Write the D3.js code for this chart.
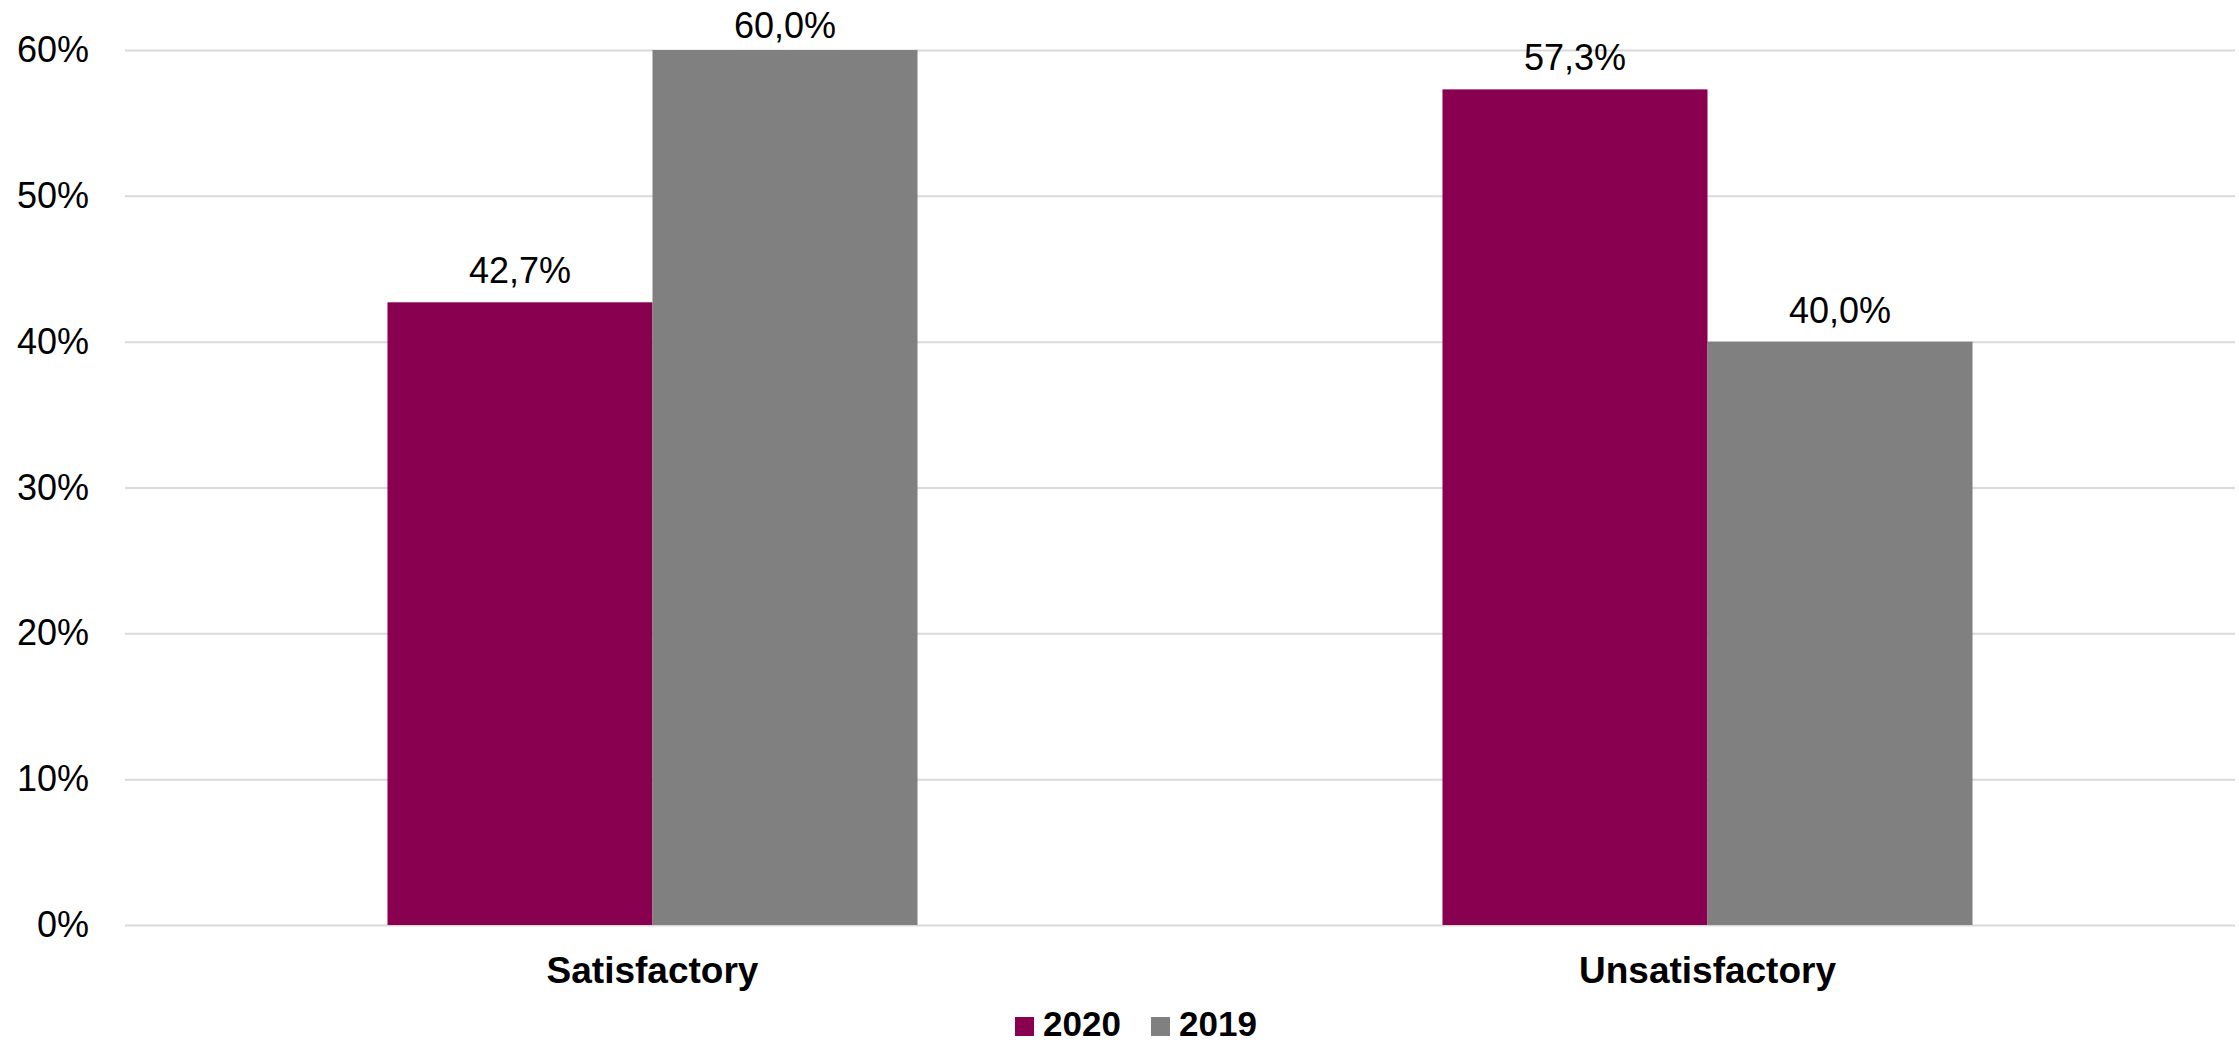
<!DOCTYPE html>
<html><head><meta charset="utf-8">
<script src="https://cdn.jsdelivr.net/npm/d3@7"></script>
<style>
html,body{margin:0;padding:0;background:#fff;}
svg{display:block;font-family:"Liberation Sans",Arial,sans-serif;}
</style></head>
<body>
<svg id="chart" width="2239" height="1044"></svg>
<script>
const categories = ["Satisfactory", "Unsatisfactory"];
const seriesNames = ["2020", "2019"];
const values2020 = [0.427, 0.573];
const values2019 = [0.600, 0.400];
const yTicks = [0, 0.1, 0.2, 0.3, 0.4, 0.5, 0.6];
const colors = ["#8a0050", "#808080"];

(function () {
const series = [values2020, values2019];
const svg = d3.select("#chart");
const mLeft = 125, mRight = 2235, mTop = 50, mBottom = 925;

const y = d3.scaleLinear().domain([0, 0.6]).range([mBottom, mTop]);
const x0 = d3.scaleBand().domain(categories).range([mLeft, mRight]).paddingInner(0.4976).paddingOuter(0.2488);
const x1 = d3.scaleBand().domain(seriesNames).range([0, x0.bandwidth()]);

const fmtTick = d => Math.round(d * 100) + "%";
const fmtLabel = d => (d * 100).toFixed(1).replace(".", ",") + "%";

const yAxis = d3.axisLeft(y).tickValues(yTicks).tickSize(-(mRight - mLeft)).tickFormat(fmtTick).tickPadding(36);
const gy = svg.append("g").attr("transform", `translate(${mLeft},0)`).call(yAxis);
gy.select(".domain").remove();
gy.selectAll(".tick line").attr("stroke", "#d9d9d9").attr("stroke-width", 2);
gy.selectAll(".tick text").attr("font-size", 36).attr("fill", "#000").attr("font-family", "Liberation Sans, Arial, sans-serif");

const rows = (c, i) => seriesNames.map((s, j) => ({s, v: series[j][i], j}));
const groups = svg.append("g").selectAll("g").data(categories).join("g")
  .attr("transform", c => `translate(${x0(c)},0)`);
groups.selectAll("rect").data(rows).join("rect")
  .attr("x", d => x1(d.s))
  .attr("y", d => y(d.v))
  .attr("width", x1.bandwidth())
  .attr("height", d => y(0) - y(d.v))
  .attr("fill", d => colors[d.j]);
groups.selectAll("text").data(rows).join("text")
  .attr("x", d => x1(d.s) + x1.bandwidth() / 2)
  .attr("y", d => Math.max(y(d.v) - 19, 38))
  .attr("text-anchor", "middle")
  .attr("font-size", 36)
  .attr("fill", "#000")
  .text(d => fmtLabel(d.v));

const xAxis = d3.axisBottom(x0).tickSize(0).tickPadding(32);
const gx = svg.append("g").attr("transform", `translate(0,${mBottom})`).call(xAxis);
gx.select(".domain").remove();
gx.selectAll(".tick text").attr("font-size", 37).attr("font-weight", "bold").attr("fill", "#000").attr("font-family", "Liberation Sans, Arial, sans-serif");

const legendX = [1015, 1151];
const leg = svg.append("g").selectAll("g").data(seriesNames).join("g")
  .attr("transform", (d, i) => `translate(${legendX[i]},1017)`);
leg.append("rect").attr("width", 19).attr("height", 19).attr("fill", (d, i) => colors[i]);
leg.append("text").attr("x", 28).attr("y", 19).attr("font-size", 35).attr("font-weight", "bold").attr("fill", "#000").text(d => d);
})();
</script>
</body></html>
